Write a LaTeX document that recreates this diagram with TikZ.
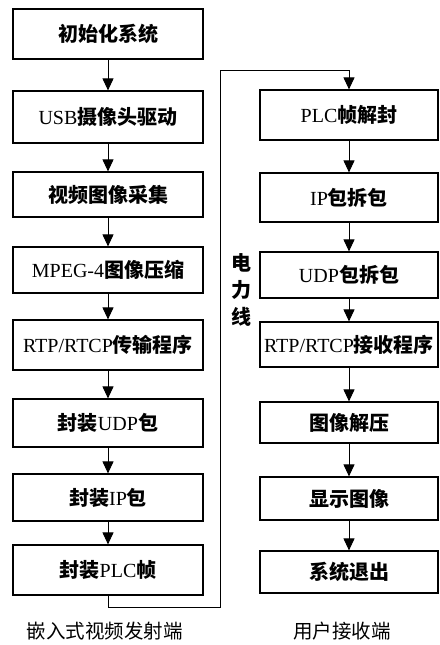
\documentclass[tikz,border=0pt]{standalone}
\usepackage{fontspec}
\setmainfont{Liberation Serif}
\newfontfamily\cjk{Noto Sans CJK SC}
\usetikzlibrary{arrows.meta}
\newcommand\zh[1]{{\cjk\bfseries #1}}
\tikzset{
  box/.style={draw, line width=1.2pt, inner sep=0pt, font=\fontsize{20}{23}\selectfont},
  lbox/.style={box, minimum width=190pt},
  rbox/.style={box, minimum width=178pt},
  arr/.style={line width=1pt, -{Triangle[width=11pt,length=12pt]}},
  caption/.style={font=\fontsize{19.5}{22}\selectfont\cjk}
}
\begin{document}
\begin{tikzpicture}[x=1pt,y=-1pt]
\useasboundingbox (0,0) rectangle (439,645);
% left column
\node[lbox, minimum height=50pt] (l1) at (108,34) {\zh{初始化系统}};
\node[lbox, minimum height=52pt] (l2) at (108,117) {USB\zh{摄像头驱动}};
\node[lbox, minimum height=45pt] (l3) at (108,194.5) {\zh{视频图像采集}};
\node[lbox, minimum height=46pt] (l4) at (108,270) {MPEG-4\zh{图像压缩}};
\node[lbox, minimum height=50pt] (l5) at (108,345) {RTP/RTCP\zh{传输程序}};
\node[lbox, minimum height=48pt] (l6) at (108,423) {\zh{封装}UDP\zh{包}};
\node[lbox, minimum height=47pt] (l7) at (108,497.5) {\zh{封装}IP\zh{包}};
\node[lbox, minimum height=50pt] (l8) at (108,570) {\zh{封装}PLC\zh{帧}};
% right column
\node[rbox, minimum height=50pt] (r1) at (349,115) {PLC\zh{帧解封}};
\node[rbox, minimum height=49pt] (r2) at (349,197.5) {IP\zh{包拆包}};
\node[rbox, minimum height=46pt] (r3) at (349,275) {UDP\zh{包拆包}};
\node[rbox, minimum height=45pt] (r4) at (349,344.5) {RTP/RTCP\zh{接收程序}};
\node[rbox, minimum height=41pt] (r5) at (349,422.5) {\zh{图像解压}};
\node[rbox, minimum height=43pt] (r6) at (349,498.5) {\zh{显示图像}};
\node[rbox, minimum height=42pt] (r7) at (349,572) {\zh{系统退出}};
% arrows
\foreach \a/\b in {l1/l2,l2/l3,l3/l4,l4/l5,l5/l6,l6/l7,l7/l8,r1/r2,r2/r3,r3/r4,r4/r5,r5/r6,r6/r7}
  \draw[arr] (\a) -- (\b);
% power line
\coordinate (pb) at (220,607);
\coordinate (pt) at (220,70);
\draw[arr] (l8.south) |- (pb) -- (pt) -| (r1.north);
\node[align=center, font=\fontsize{20}{27}\selectfont\cjk\bfseries] (pl) at (241,290) {电\\力\\线};
% captions
\node[caption] (c1) at (105,631) {嵌入式视频发射端};
\node[caption] (c2) at (342,631) {用户接收端};
\end{tikzpicture}
\end{document}
